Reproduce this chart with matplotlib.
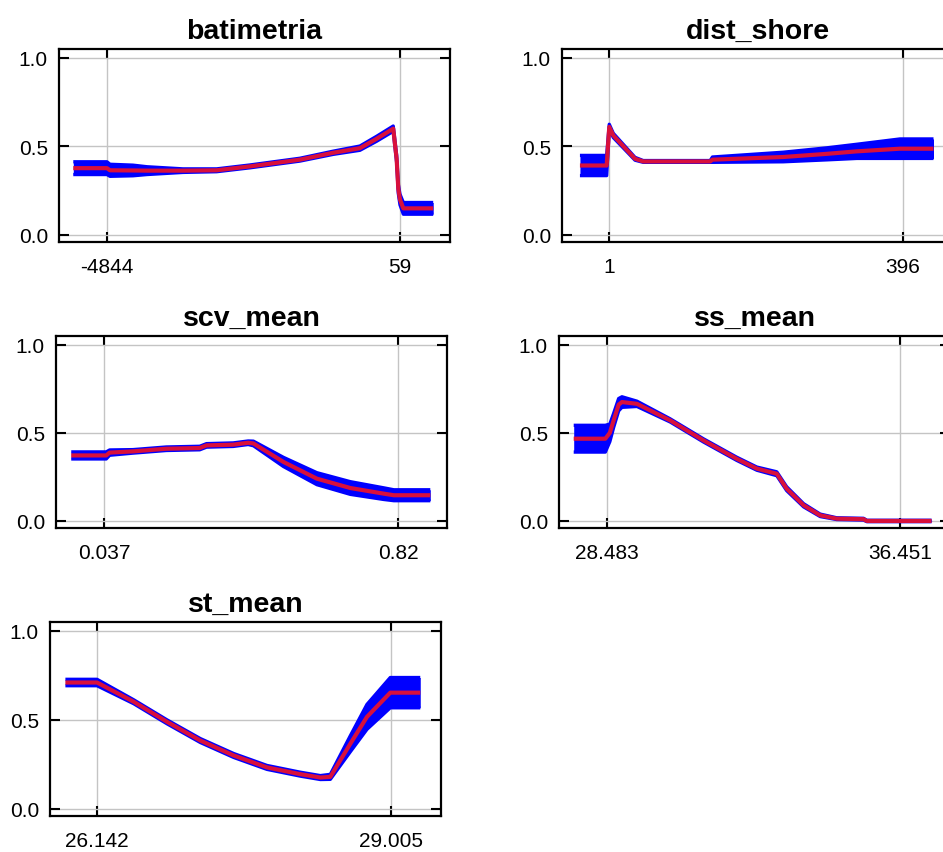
import numpy as np
import matplotlib
matplotlib.use('Agg')
import matplotlib.pyplot as plt

plt.rcParams['font.family'] = ['Liberation Sans', 'DejaVu Sans']

# batimetria
bat_x = [-5408, -4844, -4794, -4409, -4175, -3573, -3009, -2452, -1615, -1058, -611, -332, -54, 3, 31, 59, 115, 615]
bat_mean = [0.377, 0.377, 0.365, 0.364, 0.363, 0.363, 0.365, 0.387, 0.425, 0.464, 0.49, 0.543, 0.60, 0.43, 0.26, 0.20, 0.15, 0.15]
bat_sd = [0.036, 0.036, 0.034, 0.03, 0.022, 0.01, 0.008, 0.008, 0.008, 0.009, 0.012, 0.014, 0.015, 0.02, 0.025, 0.03, 0.033, 0.033]
bat_ticks = [-4844, 59]
bat_lim = (-5647, 896)

# dist_shore
ds_x = [-38, -2.1, 1.4, 6.8, 36, 47, 137, 140, 235, 294, 334, 392, 437]
ds_mean = [0.392, 0.392, 0.61, 0.562, 0.43, 0.415, 0.415, 0.425, 0.44, 0.458, 0.472, 0.487, 0.487]
ds_sd = [0.057, 0.057, 0.015, 0.012, 0.008, 0.005, 0.005, 0.015, 0.027, 0.034, 0.04, 0.055, 0.055]
ds_ticks = [1, 396]
ds_lim = (-62.1, 463.2)

# scv_mean
scv_x = [-0.0502, 0.043, 0.052, 0.114, 0.203, 0.292, 0.31, 0.381, 0.421, 0.435, 0.515, 0.604, 0.693, 0.782, 0.809, 0.906]
scv_mean = [0.372, 0.372, 0.388, 0.395, 0.41, 0.414, 0.429, 0.433, 0.444, 0.44, 0.335, 0.24, 0.187, 0.155, 0.146, 0.146]
scv_sd = [0.02, 0.02, 0.015, 0.01, 0.01, 0.01, 0.01, 0.01, 0.01, 0.013, 0.026, 0.034, 0.036, 0.033, 0.031, 0.031]
scv_ticks = [0.037, 0.82]
scv_lim = (-0.0908, 0.9505)

# ss_mean
ss_x = [27.578, 28.438, 28.56, 28.664, 28.80, 28.89, 29.298, 30.20, 31.109, 32.01, 32.558, 33.1, 33.37, 33.83, 34.28, 34.73, 35.46, 35.55, 37.31]
ss_mean = [0.467, 0.467, 0.5, 0.571, 0.66, 0.675, 0.665, 0.571, 0.457, 0.353, 0.297, 0.268, 0.183, 0.089, 0.032, 0.013, 0.01, 0.0, 0.0]
ss_sd = [0.076, 0.076, 0.05, 0.04, 0.035, 0.03, 0.015, 0.009, 0.009, 0.009, 0.009, 0.011, 0.011, 0.009, 0.007, 0.005, 0.005, 0.004, 0.004]
ss_ticks = [28.483, 36.451]
ss_lim = (27.178, 37.811)

# st_mean
st_x = [25.834, 26.142, 26.499, 26.824, 27.148, 27.473, 27.797, 28.122, 28.317, 28.414, 28.609, 28.771, 28.998, 29.29]
st_mean = [0.71, 0.71, 0.602, 0.489, 0.384, 0.30, 0.233, 0.195, 0.176, 0.18, 0.366, 0.517, 0.653, 0.653]
st_sd = [0.018, 0.018, 0.011, 0.011, 0.011, 0.011, 0.011, 0.011, 0.011, 0.014, 0.045, 0.07, 0.085, 0.085]
st_ticks = [26.142, 29.005]
st_lim = (25.684, 29.492)

panels = [
    ('batimetria', bat_x, bat_mean, bat_sd, bat_ticks, ['-4844', '59'], bat_lim, (59, 50, 243)),
    ('dist_shore', ds_x, ds_mean, ds_sd, ds_ticks, ['1', '396'], ds_lim, (562, 50, 243)),
    ('scv_mean', scv_x, scv_mean, scv_sd, scv_ticks, ['0.037', '0.82'], scv_lim, (56, 337, 529)),
    ('ss_mean', ss_x, ss_mean, ss_sd, ss_ticks, ['28.483', '36.451'], ss_lim, (559, 337, 529)),
    ('st_mean', st_x, st_mean, st_sd, st_ticks, ['26.142', '29.005'], st_lim, (50, 623, 817)),
]

W, H = 943, 853
fig = plt.figure(figsize=(W / 100, H / 100), dpi=100)

for name, x, m, s, ticks, labels, lim, (left, top, bottom) in panels:
    ax = fig.add_axes([left / W, (H - bottom) / H, 391 / W, (bottom - top) / H])
    x = np.array(x)
    m = np.array(m)
    s = np.array(s)
    ax.fill_between(x, m - s, m + s, color='#0000ff', lw=0, zorder=2)
    ax.plot(x, m + s, color='#0000ff', lw=2.4, zorder=2, solid_capstyle='butt')
    ax.plot(x, m - s, color='#0000ff', lw=2.4, zorder=2, solid_capstyle='butt')
    ax.plot(x, m, color='#d8103c', lw=3, zorder=3, solid_capstyle='butt')
    ax.set_xlim(lim)
    ax.set_ylim(-0.04, 1.05)
    ax.set_xticks(ticks)
    ax.set_xticklabels(labels)
    ax.set_yticks([0, 0.5, 1.0])
    ax.set_yticklabels(['0.0', '0.5', '1.0'])
    ax.grid(True, color='#c4c4c4', lw=1, zorder=0)
    ax.tick_params(direction='in', length=7, width=1.5, top=True, right=True,
                   labelsize=15, colors='black')
    ax.tick_params(axis='x', pad=11)
    ax.tick_params(axis='y', pad=8)
    for sp in ax.spines.values():
        sp.set_linewidth(1.6)
        sp.set_zorder(4)
    ax.set_title(name, fontsize=20.5, fontweight='bold', pad=8)

fig.savefig('out.png', dpi=100)
